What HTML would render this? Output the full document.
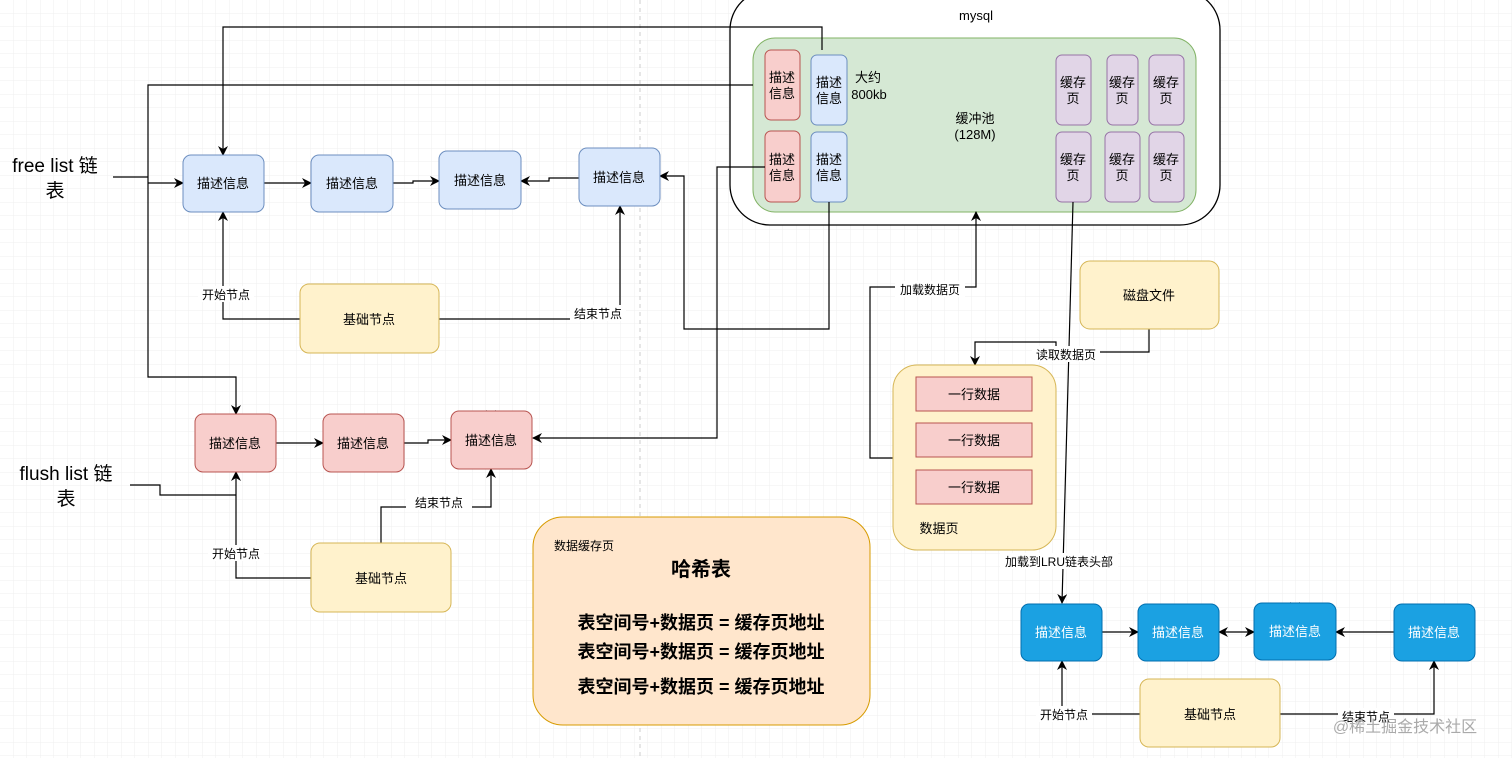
<!DOCTYPE html>
<html><head><meta charset="utf-8"><style>
html,body{margin:0;padding:0;background:#fff}
svg{display:block;font-family:"Liberation Sans","Noto Sans CJK SC",sans-serif}
</style></head><body>
<svg width="1512" height="758" viewBox="0 0 1512 758" xmlns="http://www.w3.org/2000/svg">
<defs>
<pattern id="g" width="13.5" height="13.5" patternUnits="userSpaceOnUse"><path d="M13.5 0V13.5H0" fill="none" stroke="#efefef" stroke-width="1"/></pattern>
<marker id="a" markerWidth="10" markerHeight="10" refX="9" refY="5" orient="auto" markerUnits="userSpaceOnUse"><path d="M0 0L10 5L0 10L3 5Z" fill="#000"/></marker>
<marker id="as" markerWidth="10" markerHeight="10" refX="1" refY="5" orient="auto" markerUnits="userSpaceOnUse"><path d="M10 0L0 5L10 10L7 5Z" fill="#000"/></marker>
</defs>
<rect width="1512" height="758" fill="url(#g)"/>
<line x1="640" y1="0" x2="640" y2="758" stroke="#ccc" stroke-dasharray="4 4"/>

<!-- mysql -->
<rect x="730" y="-10" width="490" height="235" rx="40" fill="#fff" stroke="#000" stroke-width="1.3"/>
<text x="976" y="20" font-size="13" text-anchor="middle">mysql</text>
<rect x="753" y="38" width="443" height="174" rx="22" fill="#d5e8d4" stroke="#82b366"/>
<g font-size="13" text-anchor="middle">
<rect x="765" y="50" width="35" height="70" rx="6" fill="#f8cecc" stroke="#b85450"/><text x="782" y="82">描述</text><text x="782" y="98">信息</text>
<rect x="765" y="131" width="35" height="71" rx="6" fill="#f8cecc" stroke="#b85450"/><text x="782" y="164">描述</text><text x="782" y="180">信息</text>
<rect x="811" y="55" width="36" height="70" rx="6" fill="#dae8fc" stroke="#6c8ebf"/><text x="829" y="87">描述</text><text x="829" y="103">信息</text>
<rect x="811" y="132" width="36" height="70" rx="6" fill="#dae8fc" stroke="#6c8ebf"/><text x="829" y="164">描述</text><text x="829" y="180">信息</text>
<text x="868" y="82">大约</text><text x="869" y="99">800kb</text>
<text x="975" y="123">缓冲池</text><text x="975" y="139">(128M)</text>
<g fill="#e1d5e7" stroke="#9673a6">
<rect x="1056" y="55" width="35" height="70" rx="6"/><rect x="1107" y="55" width="31" height="70" rx="6"/><rect x="1149" y="55" width="35" height="70" rx="6"/>
<rect x="1056" y="132" width="35" height="70" rx="6"/><rect x="1105" y="132" width="35" height="70" rx="6"/><rect x="1149" y="132" width="35" height="70" rx="6"/>
</g>
<text x="1073" y="87">缓存</text><text x="1073" y="103">页</text>
<text x="1122" y="87">缓存</text><text x="1122" y="103">页</text>
<text x="1166" y="87">缓存</text><text x="1166" y="103">页</text>
<text x="1073" y="164">缓存</text><text x="1073" y="180">页</text>
<text x="1122" y="164">缓存</text><text x="1122" y="180">页</text>
<text x="1166" y="164">缓存</text><text x="1166" y="180">页</text>
</g>

<!-- connectors -->
<g fill="none" stroke="#000" stroke-width="1.2">
<path d="M822 50V27H223V155" marker-end="url(#a)"/>
<path d="M753 85H148V377H236V414" marker-end="url(#a)"/>
<path d="M113 177H148"/>
<path d="M148 183H183" marker-end="url(#a)"/>
<path d="M264 183H311" marker-end="url(#a)"/>
<path d="M393 183H413V181H439" marker-end="url(#a)"/>
<path d="M579 178H549V181H521" marker-end="url(#a)"/>
<path d="M480 151V160" marker-end="url(#a)"/>
<path d="M300 319H223V212" marker-end="url(#a)"/>
<path d="M439 319H620V206" marker-end="url(#a)"/>
<path d="M765 167H717V438H533" marker-end="url(#a)"/>
<path d="M829 202V329H684V176H660" marker-end="url(#a)"/>
<path d="M276 443H323" marker-end="url(#a)"/>
<path d="M404 443H428V440H451" marker-end="url(#a)"/>
<path d="M491 411V419" marker-end="url(#a)"/>
<path d="M130 485H160V495H236"/>
<path d="M311 578H236V472" marker-end="url(#a)"/>
<path d="M381 543V507H491V469" marker-end="url(#a)"/>
<path d="M893 458H870V287H976V212" marker-end="url(#a)"/>
<path d="M1149 329V352H1056V342H975V365" marker-end="url(#a)"/>
<path d="M1073 202L1062 603" marker-end="url(#a)"/>
<path d="M1102 632H1138" marker-end="url(#a)"/>
<path d="M1219 632H1254" marker-start="url(#as)" marker-end="url(#a)"/>
<path d="M1394 632H1336" marker-end="url(#a)"/>
<path d="M1295 603V611" marker-end="url(#a)"/>
<path d="M1140 714H1062V661" marker-end="url(#a)"/>
<path d="M1280 714H1434V661" marker-end="url(#a)"/>
</g>

<!-- label backgrounds -->
<g fill="#fff">
<rect x="198" y="286" width="56" height="16"/><rect x="570" y="305" width="56" height="16"/>
<rect x="208" y="545" width="56" height="16"/><rect x="406" y="494" width="66" height="16"/>
<rect x="895" y="281" width="70" height="16"/><rect x="1032" y="346" width="68" height="16"/>
<rect x="1000" y="553" width="118" height="16"/><rect x="1036" y="706" width="56" height="16"/><rect x="1338" y="708" width="56" height="16"/>
</g>

<g font-size="13" text-anchor="middle">
<text x="226" y="299" font-size="12">开始节点</text><text x="598" y="318" font-size="12">结束节点</text>
<text x="236" y="558" font-size="12">开始节点</text><text x="439" y="507" font-size="12">结束节点</text>
<text x="930" y="294" font-size="12">加载数据页</text><text x="1066" y="359" font-size="12">读取数据页</text>
<text x="1059" y="566" font-size="12">加载到LRU链表头部</text>
<text x="1064" y="719" font-size="12">开始节点</text><text x="1366" y="721" font-size="12">结束节点</text>

<text x="55" y="172" font-size="19">free list 链</text><text x="55" y="197" font-size="19">表</text>
<text x="66" y="480" font-size="19">flush list 链</text><text x="66" y="505" font-size="19">表</text>

<g fill="#dae8fc" stroke="#6c8ebf">
<rect x="183" y="155" width="81" height="57" rx="8"/><rect x="311" y="155" width="82" height="57" rx="8"/>
<rect x="439" y="151" width="82" height="58" rx="8"/><rect x="579" y="148" width="81" height="58" rx="8"/>
</g>
<text x="223" y="188">描述信息</text><text x="352" y="188">描述信息</text><text x="480" y="185">描述信息</text><text x="619" y="182">描述信息</text>
<rect x="300" y="284" width="139" height="69" rx="9" fill="#fff2cc" stroke="#d6b656"/><text x="369" y="324">基础节点</text>

<g fill="#f8cecc" stroke="#b85450">
<rect x="195" y="414" width="81" height="58" rx="8"/><rect x="323" y="414" width="81" height="58" rx="8"/><rect x="451" y="411" width="81" height="58" rx="8"/>
</g>
<text x="235" y="448">描述信息</text><text x="363" y="448">描述信息</text><text x="491" y="445">描述信息</text>
<rect x="311" y="543" width="140" height="69" rx="9" fill="#fff2cc" stroke="#d6b656"/><text x="381" y="583">基础节点</text>

<rect x="533" y="517" width="337" height="208" rx="30" fill="#ffe6cc" stroke="#d79b00"/>
<text x="584" y="550" font-size="12">数据缓存页</text>
<text x="701" y="576" font-size="20" font-weight="bold">哈希表</text>
<text x="701" y="629" font-size="18" font-weight="bold">表空间号+数据页 = 缓存页地址</text>
<text x="701" y="658" font-size="18" font-weight="bold">表空间号+数据页 = 缓存页地址</text>
<text x="701" y="693" font-size="18" font-weight="bold">表空间号+数据页 = 缓存页地址</text>

<rect x="893" y="365" width="163" height="185" rx="24" fill="#fff2cc" stroke="#d6b656"/>
<g fill="#f8cecc" stroke="#b85450"><rect x="916" y="377" width="116" height="34"/><rect x="916" y="423" width="116" height="34"/><rect x="916" y="470" width="116" height="34"/></g>
<text x="974" y="399">一行数据</text><text x="974" y="445">一行数据</text><text x="974" y="492">一行数据</text>
<text x="939" y="533">数据页</text>
<rect x="1080" y="261" width="139" height="68" rx="10" fill="#fff2cc" stroke="#d6b656"/><text x="1149" y="300">磁盘文件</text>

<g fill="#1ba1e2" stroke="#006eaf">
<rect x="1021" y="604" width="81" height="57" rx="8"/><rect x="1138" y="604" width="81" height="57" rx="8"/>
<rect x="1254" y="603" width="82" height="57" rx="8"/><rect x="1394" y="604" width="81" height="57" rx="8"/>
</g>
<g fill="#fff"><text x="1061" y="637">描述信息</text><text x="1178" y="637">描述信息</text><text x="1295" y="636">描述信息</text><text x="1434" y="637">描述信息</text></g>
<rect x="1140" y="679" width="140" height="68" rx="9" fill="#fff2cc" stroke="#d6b656"/><text x="1210" y="719">基础节点</text>
<text x="1405" y="732" font-size="16" fill="#aaa">@稀土掘金技术社区</text>
</g>
</svg>
</body></html>
